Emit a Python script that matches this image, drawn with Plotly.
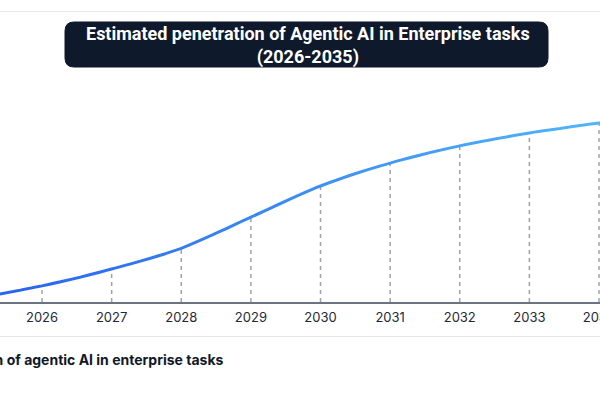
import plotly.graph_objects as go

# ---- data ----
years = [2025, 2026, 2027, 2028, 2029, 2030, 2031, 2032, 2033, 2034, 2035]
penetration = [0.8, 4.5, 9.2, 15.0, 23.7, 32.4, 38.8, 43.6, 47.2, 50.0, 52.5]
tick_years = [2026, 2027, 2028, 2029, 2030, 2031, 2032, 2033, 2034]
tick_labels = [str(y) for y in tick_years]
title_text = "Estimated penetration of Agentic AI in Enterprise tasks<br>(2026-2035)"
caption_text = "Penetration of agentic AI in enterprise tasks"

W, H = 600, 400
TOP, BOT = 80, 302  # plot area pixel rows


def px_x(p):
    return p / W


def px_y(p):
    return (BOT - p) / (BOT - TOP)


def lerp_color(c1, c2, t):
    return "rgb({},{},{})".format(*[round(a + (b - a) * t) for a, b in zip(c1, c2)])


c_start = (40, 100, 238)
c_end = (80, 182, 250)

x0 = 2026 - 42 / 69.6
x1 = 2034 + 1 / 69.6

fig = go.Figure()

# dashed drop lines
dx, dy = [], []
for x, v in zip(years, penetration):
    dx += [x, x, None]
    dy += [0, v, None]
fig.add_trace(go.Scatter(x=dx, y=dy, mode="lines",
                         line=dict(color="#9ca3af", width=1.5, dash="4px,4px"),
                         hoverinfo="skip", showlegend=False))

# smooth line with horizontal colour gradient: same spline drawn on stripes of hidden x-axes
n_stripes = 30
layout_axes = {}
for k in range(n_stripes):
    a, b = k / n_stripes, (k + 1) / n_stripes
    name = f"xaxis{k + 2}"
    layout_axes[name] = dict(domain=[a, b], range=[x0 + a * (x1 - x0), x0 + b * (x1 - x0)],
                             visible=False, anchor="y", showgrid=False, zeroline=False)
    fig.add_trace(go.Scatter(x=years, y=penetration, mode="lines", xaxis=f"x{k + 2}", yaxis="y",
                             line=dict(color=lerp_color(c_start, c_end, (k + 0.5) / n_stripes),
                                       width=3, shape="spline", smoothing=0.8),
                             showlegend=False))

fig.update_layout(
    width=W, height=H,
    margin=dict(l=0, r=0, t=TOP, b=H - BOT),
    paper_bgcolor="white", plot_bgcolor="rgba(0,0,0,0)",
    font=dict(family="Inter, Roboto, sans-serif", color="#1f2937"),
    showlegend=False,
    xaxis=dict(range=[x0, x1], tickmode="array", tickvals=tick_years, ticktext=tick_labels,
               showgrid=False, zeroline=False, showline=True, linecolor="#6b7280", linewidth=1.5,
               ticks="", tickfont=dict(size=13, color="#1f2937"), ticklabeloverflow="allow",
               automargin=False, ticklabelstandoff=3),
    yaxis=dict(range=[0, 62], showgrid=False, zeroline=False, showticklabels=False,
               showline=False, automargin=False),
    **layout_axes,
)

# separators
for py in (11.5, 336.5):
    fig.add_shape(type="line", xref="paper", yref="paper", x0=0, x1=1,
                  y0=px_y(py), y1=px_y(py), line=dict(color="#e5e7eb", width=1), layer="below")

# rounded title box
bx0, bx1, by0, by1, r = 65, 548, 22, 67, 9
rx, ry = r / W, r / (BOT - TOP)
L, R_, T, B = px_x(bx0), px_x(bx1), px_y(by0), px_y(by1)
path = (f"M {L + rx} {T} L {R_ - rx} {T} Q {R_} {T} {R_} {T - ry} "
        f"L {R_} {B + ry} Q {R_} {B} {R_ - rx} {B} L {L + rx} {B} Q {L} {B} {L} {B + ry} "
        f"L {L} {T - ry} Q {L} {T} {L + rx} {T} Z")
fig.add_shape(type="path", xref="paper", yref="paper", path=path,
              fillcolor="#0e192c", line=dict(color="#0e192c", width=1))
fig.add_annotation(xref="paper", yref="paper", x=px_x(308), y=px_y(45), text="<b>" + title_text + "</b>",
                   showarrow=False, font=dict(family="Roboto, Inter, sans-serif", size=18, color="white"),
                   xanchor="center", yanchor="middle", align="center")

fig.add_annotation(xref="paper", yref="paper", x=px_x(226), y=px_y(359), text="<b>" + caption_text + "</b>",
                   showarrow=False, font=dict(family="Inter, sans-serif", size=14, color="#111827"),
                   xanchor="right", yanchor="middle")

fig.write_html("out.html")
